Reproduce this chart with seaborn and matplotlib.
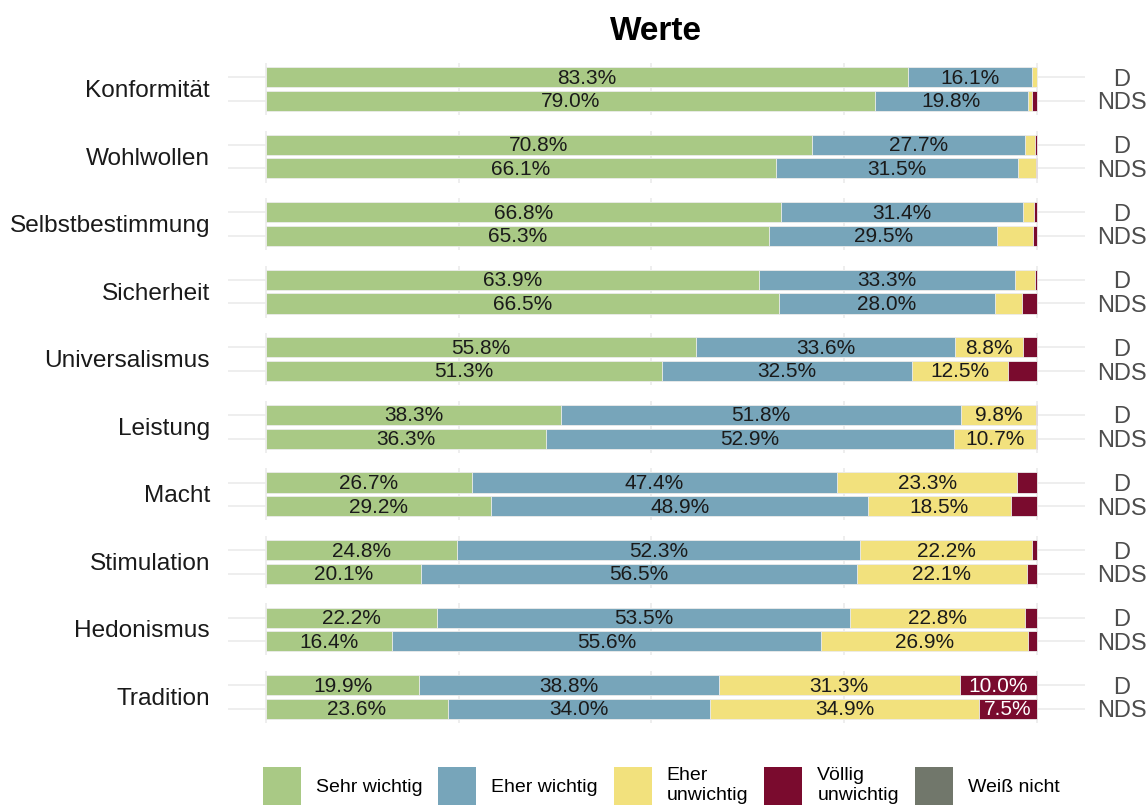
import pandas as pd
import seaborn as sns
import matplotlib.pyplot as plt
from matplotlib.patches import Patch

# values (percent)
werte = ["Konformität", "Wohlwollen", "Selbstbestimmung", "Sicherheit", "Universalismus",
         "Leistung", "Macht", "Stimulation", "Hedonismus", "Tradition"]
gruppen = ["D", "NDS"]
antworten = ["Sehr wichtig", "Eher wichtig", "Eher unwichtig", "Völlig unwichtig", "Weiß nicht"]
legend_labels = ["Sehr wichtig", "Eher wichtig", "Eher\nunwichtig", "Völlig\nunwichtig", "Weiß nicht"]
farben = ["#A9C985", "#77A5BA", "#F2E17D", "#7A0B2E", "#71776B"]

# one list per group, order follows `werte`
sehr_wichtig_d = [83.3, 70.8, 66.8, 63.9, 55.8, 38.3, 26.7, 24.8, 22.2, 19.9]
sehr_wichtig_nds = [79.0, 66.1, 65.3, 66.5, 51.3, 36.3, 29.2, 20.1, 16.4, 23.6]
eher_wichtig_d = [16.1, 27.7, 31.4, 33.3, 33.6, 51.8, 47.4, 52.3, 53.5, 38.8]
eher_wichtig_nds = [19.8, 31.5, 29.5, 28.0, 32.5, 52.9, 48.9, 56.5, 55.6, 34.0]
eher_unwichtig_d = [0.6, 1.3, 1.4, 2.6, 8.8, 9.8, 23.3, 22.2, 22.8, 31.3]
eher_unwichtig_nds = [0.6, 2.3, 4.7, 3.6, 12.5, 10.7, 18.5, 22.1, 26.9, 34.9]
voellig_unwichtig_d = [0.0, 0.2, 0.4, 0.2, 1.8, 0.1, 2.6, 0.7, 1.5, 10.0]
voellig_unwichtig_nds = [0.6, 0.1, 0.5, 1.9, 3.7, 0.1, 3.4, 1.3, 1.1, 7.5]
weiss_nicht_d = [0.0] * 10
weiss_nicht_nds = [0.0] * 10

serien = {
    "D": [sehr_wichtig_d, eher_wichtig_d, eher_unwichtig_d, voellig_unwichtig_d, weiss_nicht_d],
    "NDS": [sehr_wichtig_nds, eher_wichtig_nds, eher_unwichtig_nds, voellig_unwichtig_nds, weiss_nicht_nds],
}

rows = []
for g in gruppen:
    for i, w in enumerate(werte):
        cum = 0.0
        for k, a in enumerate(antworten):
            v = serien[g][k][i]
            cum += v
            rows.append({"wert": w, "gruppe": g, "antwort": a, "anteil": v, "cum": cum})
df = pd.DataFrame(rows)

sns.set_theme(style="whitegrid")
plt.rcParams["font.family"] = ["Liberation Sans", "DejaVu Sans"]
plt.rcParams["text.color"] = "black"

fig, axes = plt.subplots(len(werte), 1, figsize=(11.48, 8.05), dpi=100, sharex=True)
fig.subplots_adjust(left=228 / 1148, right=1085 / 1148, top=1 - 63 / 805, bottom=1 - 723 / 805, hspace=0.3)

for ax, w in zip(axes, werte):
    sub = df[df["wert"] == w]
    # stacked bars: draw cumulative sums from the last answer to the first
    for a, c in reversed(list(zip(antworten, farben))):
        part = sub[sub["antwort"] == a]
        sns.barplot(data=part, x="cum", y="gruppe", order=gruppen, orient="h", color=c, saturation=1,
                    width=0.85, edgecolor="#eeeeee", linewidth=0.6, ax=ax, zorder=2)
    for _, r in sub.iterrows():
        if r["anteil"] >= 7.5:
            ax.text(r["cum"] - r["anteil"] / 2, gruppen.index(r["gruppe"]) + 0.04, f"{r['anteil']:.1f}%",
                    ha="center", va="center", fontsize=15, zorder=3,
                    color="white" if r["antwort"] == "Völlig unwichtig" else "#1a1a1a")

    ax.set_xlim(-4.93, 106.23)
    ax.set_ylim(1.6, -0.6)
    ax.set_xticks([0, 25, 50, 75, 100])
    ax.set_xlabel("")
    ax.set_ylabel("")
    ax.tick_params(axis="x", length=0, labelbottom=False)
    ax.yaxis.tick_right()
    ax.set_yticks([0, 1])
    ax.set_yticklabels(gruppen)
    ax.tick_params(axis="y", length=0, pad=26.6, labelsize=17, labelcolor="#4D4D4D")
    for lab in ax.get_yticklabels():
        lab.set_horizontalalignment("center")
    ax.grid(True, color="#EBEBEB", linewidth=1.2, zorder=0)
    ax.set_axisbelow(True)
    for s in ax.spines.values():
        s.set_visible(False)
    ax.annotate(w, xy=(0, 0.5), xycoords="axes fraction", xytext=(-18, -2),
                textcoords="offset pixels", ha="right", va="center", fontsize=17.6, color="#1a1a1a")

fig.text(656 / 1148, 1 - 32 / 805, "Werte", ha="center", va="center", fontsize=24,
         fontweight="bold", color="black")

handles = [Patch(facecolor=c, edgecolor="none") for c in farben]
fig.legend(handles, legend_labels, loc="upper left", bbox_to_anchor=(263 / 1148, 1 - 767 / 805),
           ncol=5, frameon=False, fontsize=14, handlelength=1.95, handleheight=2.6,
           handletextpad=0.77, columnspacing=0.82, borderaxespad=0, borderpad=0)

plt.savefig("out.png", dpi=100)
